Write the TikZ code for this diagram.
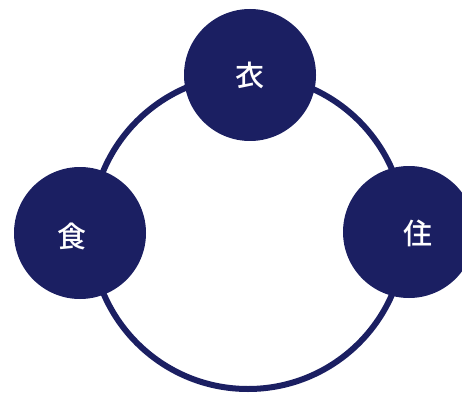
\documentclass[tikz,border=0pt]{standalone}
\usepackage{fontspec}
\newfontfamily\cjk{Noto Sans CJK JP}[BoldFont={* Medium}]
\definecolor{navy}{HTML}{1B1F62}
\begin{document}
\begin{tikzpicture}[x=1pt,y=1pt,
  labeltext/.style={text=white,font=\cjk\bfseries\fontsize{29}{29}\selectfont},
  bigdot/.style={circle,fill=navy,minimum size=132pt,inner sep=0pt,labeltext}]
\useasboundingbox (0,0) rectangle (462,394);
\draw[navy,line width=6pt] (248,{394-232}) circle (157);
\node[bigdot] (yi) at (250,{394-75}) {衣};
\node[bigdot] (shoku) at (80,{394-233}) {};
\node[bigdot] (ju) at (409,{394-232}) {};
\node[labeltext] (shokut) at (72,{394-236}) {食};
\node[labeltext] (jut) at (418,{394-233}) {住};
\end{tikzpicture}
\end{document}
